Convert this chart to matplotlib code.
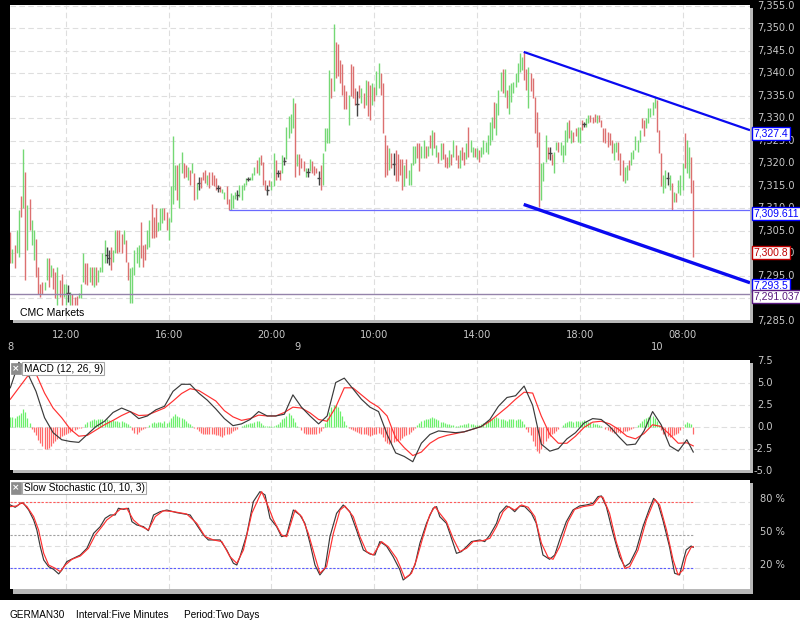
import numpy as np
import matplotlib
matplotlib.use("Agg")
import matplotlib.pyplot as plt
from matplotlib.patches import Rectangle
import matplotlib.transforms as mtrans

# ---------------- DATA ----------------
# 5-minute bars (index 0 = 8th 09:50), high / low per bar
high_a = [7304.8, 7301.1, 7301.8, 7305.2, 7309.6, 7312.7, 7323.3, 7318.1, 7310.7, 7312.2, 7307.4,
          7305.2, 7303.2, 7297.0, 7293.3, 7293.7, 7293.7, 7298.9, 7298.9, 7297.4, 7296.7, 7295.9,
          7297.0, 7294.1, 7295.5, 7293.3, 7293.3, 7293.0, 7291.5, 7291.1, 7290.4, 7290.5, 7291.2,
          7293.3, 7300.0, 7297.8, 7297.8, 7297.0, 7297.0, 7297.0, 7297.0, 7296.3, 7297.0, 7300.0,
          7303.0, 7301.5, 7300.7, 7301.5, 7300.7, 7305.2, 7305.2, 7305.2, 7304.4, 7305.2, 7303.0,
          7298.1, 7296.7, 7297.0, 7300.7, 7301.5, 7301.8, 7307.0, 7301.8, 7302.2, 7305.2, 7307.4]
low_a = [7297.8, 7297.8, 7296.7, 7300.0, 7299.3, 7308.1, 7310.0, 7294.1, 7300.7, 7305.2, 7301.8,
         7298.5, 7294.8, 7291.1, 7290.4, 7291.1, 7291.8, 7294.1, 7292.6, 7294.8, 7292.2, 7290.0,
         7288.5, 7290.4, 7288.5, 7290.4, 7288.5, 7289.3, 7288.5, 7288.5, 7288.5, 7288.5, 7290.0,
         7290.0, 7293.7, 7293.3, 7293.0, 7293.7, 7293.0, 7292.6, 7293.0, 7293.7, 7295.9, 7295.9,
         7297.8, 7297.8, 7297.4, 7296.3, 7298.1, 7300.0, 7300.0, 7300.4, 7300.0, 7302.2, 7298.1,
         7294.1, 7288.9, 7288.9, 7295.2, 7297.8, 7297.0, 7298.9, 7297.0, 7298.5, 7301.1, 7301.5]
high_b = [7311.1, 7308.2, 7310.0, 7307.1, 7310.0, 7310.0, 7310.0, 7309.3, 7307.8, 7314.9, 7326.0,
          7319.7, 7319.7, 7320.0, 7322.6, 7320.0, 7319.7, 7319.3, 7318.6, 7320.2, 7317.8, 7315.6,
          7317.1, 7317.1, 7318.2, 7318.6, 7317.4, 7318.2, 7318.2, 7317.4, 7316.7, 7315.2, 7314.9,
          7314.3, 7313.7, 7314.9, 7312.2, 7313.4, 7313.0, 7313.7, 7314.1, 7315.2, 7315.2, 7315.6,
          7316.7, 7317.1, 7317.1, 7317.8, 7319.3, 7320.8, 7321.5, 7321.9, 7320.4, 7316.3, 7315.2,
          7316.3, 7316.0, 7322.3, 7320.8, 7318.6, 7318.6, 7321.9, 7321.5, 7328.2]
low_b = [7303.4, 7303.4, 7303.7, 7304.9, 7305.2, 7306.7, 7307.4, 7305.2, 7303.0, 7307.1, 7311.1,
         7314.1, 7311.9, 7310.0, 7317.8, 7316.7, 7317.1, 7316.3, 7315.2, 7317.8, 7311.9, 7312.2,
         7314.1, 7314.5, 7316.3, 7315.6, 7315.2, 7314.5, 7315.2, 7314.9, 7314.1, 7313.7, 7313.7,
         7313.4, 7312.2, 7311.1, 7309.7, 7309.7, 7310.0, 7312.2, 7311.9, 7312.6, 7311.9, 7314.1,
         7315.2, 7316.0, 7316.3, 7316.3, 7317.4, 7317.8, 7317.4, 7319.7, 7315.2, 7314.1, 7313.0,
         7314.9, 7314.1, 7314.9, 7316.3, 7317.1, 7316.3, 7317.8, 7319.7, 7321.1]
high_c = [7330.5, 7330.9, 7334.6, 7333.4, 7322.0, 7322.0, 7321.2, 7320.5, 7319.0, 7319.0, 7320.9,
          7320.5, 7319.4, 7319.0, 7318.3, 7319.7, 7322.3, 7327.9, 7327.9, 7340.8, 7339.0, 7350.9,
          7347.1, 7346.6, 7343.1, 7342.0, 7337.5, 7336.0, 7335.3, 7342.0, 7341.6, 7336.8, 7336.0,
          7337.5, 7336.8, 7335.7, 7338.6, 7338.3, 7337.5, 7337.9, 7337.1, 7340.5, 7342.3, 7340.1,
          7337.9, 7326.4, 7324.2, 7323.4, 7322.3, 7322.3, 7323.1, 7322.0, 7320.9, 7320.9, 7319.7,
          7320.9, 7318.6, 7320.1, 7323.8, 7323.8, 7324.6, 7324.6, 7323.8, 7325.3, 7323.8, 7323.8]
low_c = [7325.7, 7326.8, 7327.9, 7317.1, 7319.4, 7317.5, 7319.0, 7318.3, 7317.1, 7317.1, 7318.3,
         7317.9, 7317.5, 7317.9, 7315.3, 7314.2, 7315.3, 7322.7, 7324.6, 7324.6, 7334.6, 7336.0,
         7339.0, 7339.4, 7337.9, 7335.3, 7332.0, 7332.0, 7328.6, 7334.9, 7334.6, 7333.1, 7330.5,
         7334.6, 7333.4, 7332.3, 7333.1, 7330.5, 7329.7, 7333.1, 7333.8, 7335.3, 7336.8, 7335.3,
         7326.8, 7317.1, 7317.5, 7318.6, 7319.0, 7317.5, 7316.0, 7316.0, 7317.5, 7314.2, 7314.9,
         7316.8, 7315.3, 7315.3, 7319.7, 7320.1, 7321.2, 7318.3, 7321.2, 7321.2, 7321.2, 7321.6]
high_d = [7326.3, 7327.4, 7327.1, 7324.1, 7322.6, 7324.5, 7324.5, 7322.2, 7321.5, 7323.0, 7322.2,
          7325.2, 7324.1, 7321.9, 7323.0, 7323.7, 7322.6, 7324.5, 7328.2, 7325.2, 7323.7, 7323.4,
          7323.4, 7323.0, 7323.7, 7325.2, 7324.8, 7326.3, 7329.3, 7330.4, 7333.7, 7333.4, 7336.3,
          7340.4, 7341.1, 7341.1, 7336.3, 7337.4, 7337.8, 7338.2, 7340.0, 7342.3, 7344.5, 7343.7,
          7344.8, 7341.1, 7341.5, 7340.0, 7338.9, 7334.8, 7331.5, 7327.1, 7320.0, 7320.4, 7326.3,
          7323.7, 7323.7, 7322.2, 7322.6, 7324.8, 7324.8, 7324.8, 7324.1, 7327.4, 7329.3]
low_d = [7323.4, 7321.9, 7323.4, 7321.5, 7320.0, 7320.8, 7321.1, 7319.3, 7318.9, 7319.3, 7319.7,
         7321.5, 7320.8, 7318.9, 7318.9, 7320.8, 7319.7, 7321.1, 7321.5, 7322.6, 7321.5, 7321.5,
         7321.1, 7320.4, 7321.5, 7322.2, 7322.6, 7322.2, 7324.1, 7325.2, 7327.8, 7326.3, 7330.8,
         7336.0, 7335.6, 7334.8, 7332.3, 7331.1, 7333.7, 7335.6, 7337.1, 7338.2, 7340.4, 7340.8,
         7338.6, 7336.3, 7332.3, 7336.0, 7334.5, 7326.7, 7323.7, 7310.4, 7311.9, 7316.0, 7320.4,
         7321.1, 7320.8, 7319.7, 7317.8, 7323.0, 7322.6, 7321.9, 7320.4, 7321.9, 7324.8]
high_e = [7329.7, 7327.4, 7327.1, 7327.8, 7328.2, 7328.2, 7329.7, 7329.3, 7330.0, 7330.8, 7330.8,
          7330.4, 7331.1, 7330.8, 7330.8, 7329.7, 7327.8, 7327.8, 7327.1, 7326.7, 7325.2, 7324.5,
          7324.8, 7324.8, 7322.3, 7320.8, 7319.3, 7319.7, 7320.8, 7322.6, 7323.0, 7326.0, 7325.2,
          7327.4, 7330.0, 7329.7, 7330.0, 7332.3, 7332.3, 7333.7, 7334.8, 7334.1, 7327.4, 7322.3,
          7317.4, 7318.5, 7318.2, 7317.4, 7315.6, 7313.7, 7313.4, 7316.3, 7317.4, 7320.0, 7326.7,
          7325.2, 7323.7, 7321.5, 7316.3]
low_e = [7325.6, 7324.5, 7324.8, 7326.0, 7324.8, 7324.5, 7327.4, 7328.2, 7328.2, 7328.9, 7329.3,
         7328.9, 7329.3, 7328.9, 7329.3, 7328.2, 7324.8, 7324.5, 7323.7, 7324.1, 7322.3, 7320.8,
         7322.6, 7320.8, 7317.4, 7316.0, 7315.6, 7316.3, 7318.6, 7319.7, 7321.1, 7323.0, 7322.6,
         7324.8, 7327.8, 7326.0, 7327.8, 7328.9, 7330.4, 7330.8, 7332.3, 7327.1, 7322.3, 7314.9,
         7313.4, 7314.5, 7315.2, 7314.1, 7309.7, 7311.5, 7311.5, 7313.4, 7313.0, 7314.1, 7318.9,
         7317.8, 7316.7, 7313.4, 7299.3]
# bar colour: r = down, g = up, k = doji
bar_kind = ("rgrggrgrgrg" "grrrrggrgrr" "grrggkgrrrg" "ggrrgrgrggg" "gkkrggrrrgr" "rgggggrrrgg"
            "rrrgggrrggg" "grggrrgrgrg" "krrrgrrrrkr" "ggrrgggkggg" "gkgggrgrrrk" "rggrkrgkg"
            "gggrgrrrgkg" "rrrkrggggrg" "rrrrrrgrrrk" "rgrgrrgrggr" "rrrgrkrrrrg" "rggggrrggrg"
            "rgrgrgrrrgr" "grrgrrgrggr" "grggggggrgg" "grgrggggggg" "rrgrrrrrggg" "rkrggrgggg"
            "rgrrggrkggr" "rrgrrrrrrrg" "grrrggrgggg" "grrgggggrrr" "ggkgrgrgggr" "ggrr")

time_ticks = [26, 74, 122, 170, 218, 266, 314]
time_labels = ["12:00", "16:00", "20:00", "10:00", "14:00", "18:00", "08:00"]
day_ticks = [0, 134, 302]
day_labels = ["8", "9", "10"]

support_level = 7309.611
support_start = 102
floor_level = 7291.037
last_price = 7300.8
upper_x = [239.8, 345.5]
upper_y = [7344.8, 7327.4]
lower_x = [239.8, 345.5]
lower_y = [7310.9, 7293.5]

# MACD (12, 26, 9), read every 4 bars
macd_idx = list(range(0, 320, 4)) + [319]
macd_line = [4.4, 7.3, 6.1, 4.0, 1.0, -0.7, -1.5, -1.7, -1.8, -0.9, 0.0, 0.6, 1.6, 2.1, 1.7, 0.9,
             1.2, 1.9, 2.3, 4.0, 4.8, 4.8, 3.8, 3.0, 2.0, 0.9, 0.1, 0.3, 0.8, 1.7, 1.2, 1.2, 1.4,
             3.6, 2.2, 1.2, 0.3, 1.2, 5.0, 5.5, 4.3, 3.1, 2.2, 1.7, -0.9, -3.0,
             -3.4, -4.0, -1.9, -0.9, -0.5, -0.6, -0.7, -0.6, -0.3, 0.0, 0.8, 2.3, 3.3, 3.5, 4.6,
             2.4, -2.0, -2.8, -2.5, -1.4, -0.7, 0.4, 0.9, 0.8, 0.0, -1.1, -2.1, -2.0, -0.5, 1.7,
             0.2, -2.2, -2.8, -1.5, -2.9]
macd_signal = [3.1, 4.4, 5.7, 6.0, 3.8, 2.1, 1.0, -0.3, -1.1, -1.0, -0.4, 0.2, 0.7, 1.25, 1.7, 1.25,
               1.3, 1.7, 2.1, 2.9, 3.75, 4.3, 4.1, 3.5, 2.9, 1.8, 1.1, 0.7, 0.9, 1.3, 1.2, 1.2, 1.6,
               2.2, 2.1, 1.55, 0.8, 0.6, 2.2, 4.4, 4.4, 3.6, 2.8, 2.2, 1.2, -1.3,
               -2.4, -3.3, -2.9, -1.9, -1.3, -1.0, -0.8, -0.6, -0.3, 0.0, 0.6, 1.4, 2.2, 3.1, 3.9,
               3.8, 1.2, -0.9, -1.9, -1.9, -1.1, -0.1, 0.5, 0.6, 0.3, -0.3, -1.1, -1.4, -0.8, 0.2,
               0.0, -0.9, -1.9, -1.85, -2.2]
macd_hist = [1.1, 1.1, 1.0, 1.2, 1.3, 1.5, 2.0, 1.6, 1.0, 0.4,
             -0.3, -0.6, -1.0, -1.5, -1.9, -2.2, -2.5, -2.6, -2.4, -2.2, -1.9, -1.7, -1.4, -1.3,
             -1.1, -1.0, -0.9, -0.7, -0.6, -0.5, -0.4, -0.3, -0.2, -0.2, -0.1,
             0.3, 0.5, 0.6, 0.7, 0.8, 0.7, 0.8, 0.9, 0.8, 0.7, 0.8, 0.7, 0.6, 0.7, 0.6, 0.6, 0.5,
             0.6, 0.5, 0.4, 0.3, 0.1,
             -0.4, -0.7, -0.8, -0.6, -0.4, -0.3, -0.2, -0.1,
             0.2, 0.4, 0.5, 0.4, 0.5, 0.5, 0.4, 0.6, 0.4, 0.5, 1.0, 1.2, 1.4, 1.2, 1.1, 1.0, 0.9,
             0.6, 0.4, 0.3, 0.1,
             -0.2, -0.3, -0.5, -0.7, -0.8, -0.8, -0.8, -0.9, -0.9, -0.9, -1.0, -1.0, -1.1, -1.2,
             -1.0, -0.9, -0.8, -0.7, -0.5, -0.4, -0.3, -0.1,
             0.1, 0.2, 0.3, 0.3, 0.4, 0.4, 0.5, 0.6, 0.6, 0.4, 0.2, 0.1, 0.05, 0.1, 0.1, 0.1, 0.2,
             0.3, 0.5, 0.8, 1.0, 1.2, 1.5, 1.3, 1.0, 0.5, 0.1, -0.1,
             -0.4, -0.7, -0.8, -0.9, -0.8, -0.9, -0.9, -0.8, -0.7, -0.5, -0.2,
             0.4, 1.0, 1.6, 2.2, 2.5, 2.4, 2.2, 1.8, 1.2, 0.6, 0.2,
             -0.2, -0.3, -0.4, -0.5, -0.6, -0.7, -0.8, -0.8, -0.9, -1.0, -1.1, -1.0, -0.9, -0.8,
             -0.7, -0.8, -1.2, -1.6, -1.9, -2.0, -1.9, -1.8, -1.7, -1.6, -1.5,
             -1.3, -1.1, -1.0, -0.8, -0.6, -0.4, -0.2,
             0.2, 0.4, 0.6, 0.7, 0.8, 0.9, 1.0, 1.1, 1.0, 0.8, 0.7, 0.5, 0.5, 0.4, 0.3, 0.3, 0.2,
             0.2, 0.1, 0.1, 0.2, 0.2, 0.3, 0.3, 0.4, 0.3, 0.3, 0.2, 0.2,
             0.2, 0.3, 0.4, 0.5, 0.7, 0.8, 0.9, 1.0, 1.1, 1.0, 0.9, 0.8, 0.7, 0.6, 0.8, 0.9, 0.8,
             0.7, 0.9, 0.8, 0.6, 0.3,
             -0.3, -0.6, -1.0, -1.6, -2.2, -2.8, -3.0, -2.6, -2.0, -1.6, -1.3, -1.1, -0.9, -0.7,
             -0.5, -0.3, -0.1,
             0.2, 0.4, 0.5, 0.6, 0.6, 0.5, 0.6, 0.6, 0.5, 0.6, 0.7, 0.6, 0.5, 0.5, 0.4, 0.3, 0.3,
             0.2, 0.1,
             -0.1, -0.3, -0.4, -0.5, -0.6, -0.7, -0.7, -0.6, -0.7, -0.6, -0.5, -0.5, -0.4, -0.3,
             -0.2, -0.1,
             0.2, 0.4, 0.6, 0.8, 1.0, 1.1, 1.2, 1.2, 1.0, 0.6, 0.2,
             -0.4, -0.8, -1.0, -1.1, -1.2, -1.1, -1.0, -0.9, -0.7, -0.4, -0.2,
             0.3, 0.5, 0.4, 0.3, -0.8]

# Slow Stochastic (10, 10, 3)
stoch_k_idx = [0, 2.3, 4.7, 6.2, 8.6, 10.9, 12.4, 14.0, 15.6, 17.9, 20.2, 22.6, 24.1, 26.4, 29.5,
               32.7, 35.8, 38.9, 42.0, 44.3, 46.7, 49.0, 50.5, 52.9, 55.2, 56.8, 59.1, 62.2, 64.5,
               66.9, 70.0, 73.1, 77.8, 84.0, 87.1, 90.2, 92.5, 95.6, 98.0, 101.1, 104.2, 105.8,
               107.3, 110.4, 113.5, 116.6, 119.0, 121.3, 124.4, 126.7, 129.1, 132.2, 135.3, 137.6,
               140.0, 142.3, 144.6, 147.0, 149.3, 152.4, 155.5, 158.6, 161.7, 164.9, 168.0, 170.3,
               172.6, 175.7, 178.8, 182.0, 183.5, 186.6, 189.0, 191.3, 194.4, 197.5, 199.1, 200.6,
               203.7, 205.3, 208.4, 210.7, 213.1, 215.4, 219.3, 221.6, 224.0, 227.1, 228.6, 231.7,
               233.3, 235.6, 238.0, 240.3, 243.4, 245.7, 247.3, 248.8, 251.9, 254.3, 256.6, 259.7,
               262.8, 265.9, 269.1, 272.2, 274.5, 276.1, 278.4, 281.5, 284.6, 287.0, 289.3, 292.4,
               295.5, 298.6, 300.5, 302.5, 304.8, 307.9, 310.3, 312.6, 314.2, 315.7, 318.0, 319.0]
stoch_k = [77.6, 75.5, 79.1, 79.1, 73.0, 64.0, 54.9, 39.7, 27.6, 21.5, 19.1, 14.9, 18.5, 26.1, 29.1,
           32.1, 38.2, 51.8, 57.9, 65.5, 68.5, 68.5, 74.6, 73.6, 74.6, 62.4, 59.4, 57.9, 54.2,
           68.5, 71.5, 73.0, 70.6, 68.5, 59.4, 50.3, 45.8, 45.8, 45.8, 36.7, 24.6, 23.0, 30.6,
           50.3, 80.6, 89.7, 86.7, 65.5, 57.9, 48.8, 50.3, 73.0, 68.5, 60.9, 42.7, 23.0, 14.0,
           20.0, 48.8, 70.0, 77.6, 71.5, 54.9, 36.7, 33.0, 32.1, 44.3, 40.3, 30.6, 18.5, 9.4,
           14.0, 23.0, 42.7, 60.9, 74.6, 76.1, 67.0, 60.9, 51.8, 33.6, 35.2, 39.7, 44.3, 45.8,
           44.3, 50.3, 60.9, 70.0, 76.7, 75.5, 71.5, 76.7, 76.1, 70.0, 60.9, 45.8, 32.1, 28.2,
           32.1, 45.8, 62.4, 73.0, 76.7, 77.6, 79.1, 85.2, 85.8, 76.1, 51.8, 30.6, 21.5, 24.6,
           36.7, 57.9, 74.6, 83.6, 79.1, 64.0, 39.7, 15.5, 14.0, 26.1, 36.7, 40.3, 39.1]
stoch_d_idx = [0, 3.1, 5.4, 7.8, 10.9, 13.2, 15.6, 17.9, 21.0, 23.3, 25.7, 28.8, 32.7, 36.5, 39.7,
               42.8, 45.1, 48.2, 51.3, 54.4, 57.5, 60.7, 64.5, 67.7, 71.5, 76.2, 82.4, 87.1, 91.0,
               94.9, 98.8, 102.6, 105.8, 108.9, 112.8, 117.4, 120.5, 122.9, 126.7, 129.1, 133.0,
               136.1, 139.2, 142.3, 144.6, 147.7, 150.9, 154.0, 156.3, 160.2, 163.3, 166.4, 169.5,
               173.4, 176.5, 180.4, 182.0, 184.3, 187.4, 189.7, 192.8, 195.9, 198.3, 200.6, 203.7,
               206.8, 209.9, 213.1, 216.2, 220.8, 224.0, 227.1, 230.2, 232.6, 235.6, 238.8, 241.9,
               245.0, 248.1, 251.2, 253.5, 256.6, 260.5, 263.6, 267.5, 272.2, 275.3, 276.8, 279.9,
               283.0, 287.0, 289.3, 293.2, 297.1, 301.0, 303.3, 306.5, 309.6, 311.9, 314.2, 315.7,
               318.0, 319.0]
stoch_d = [76.1, 76.7, 79.7, 76.1, 67.0, 54.9, 33.6, 23.0, 20.0, 17.0, 23.0, 28.2, 31.2, 38.2, 50.3,
           57.9, 64.0, 68.5, 73.6, 74.6, 64.0, 58.5, 54.9, 67.0, 72.4, 71.5, 69.4, 60.9, 48.8,
           45.8, 44.3, 30.6, 24.6, 36.7, 70.0, 89.7, 76.1, 64.0, 50.3, 48.8, 73.0, 67.0, 51.8,
           30.6, 15.5, 21.5, 51.8, 73.0, 76.7, 67.0, 48.8, 35.2, 32.1, 44.3, 39.7, 29.1, 22.0,
           10.9, 15.5, 27.6, 48.8, 68.5, 76.1, 70.0, 62.4, 47.3, 35.2, 38.2, 44.3, 45.2, 47.3,
           57.9, 71.5, 76.1, 73.0, 77.6, 75.5, 67.0, 42.7, 30.0, 28.2, 39.7, 62.4, 73.6, 76.1,
           77.6, 85.2, 84.6, 70.0, 44.3, 20.0, 21.5, 36.7, 64.0, 82.7, 77.6, 54.9, 27.6, 14.0,
           18.5, 30.6, 39.1, 39.7]

# ---------------- FIGURE ----------------
W, H = 800, 625
plt.rcParams["font.family"] = ["DejaVu Sans"]
fig = plt.figure(figsize=(8, 6.25), dpi=100, facecolor="black")
NARROW = ["Liberation Sans", "DejaVu Sans"]

def add_ax(x0, y0, x1, y1):
    return fig.add_axes([x0 / W, 1 - y1 / H, (x1 - x0) / W, (y1 - y0) / H])

def px_rect(x0, y0, x1, y1, color, z=-1):
    fig.add_artist(Rectangle((x0 / W, 1 - y1 / H), (x1 - x0) / W, (y1 - y0) / H,
                             transform=fig.transFigure, fc=color, ec="none", zorder=z))

# bottom white strip and panel shadows
px_rect(0, 600, 800, 625, "white")
shadow = "#b8b8b8"
px_rect(13, 320, 753, 323, shadow); px_rect(750, 8, 753, 323, shadow)
px_rect(13, 470, 753, 473, shadow); px_rect(750, 363, 753, 473, shadow)
px_rect(13, 589, 753, 594, shadow); px_rect(750, 483, 753, 594, shadow)

ax = add_ax(10, 5, 750, 320)
axm = add_ax(10, 360, 750, 470)
axs = add_ax(10, 480, 750, 589)
XLIM = (-0.14, 345.5)
grid_kw = dict(color="#dedede", lw=0.8, ls=(0, (5, 3)), zorder=0)
for a in (ax, axm, axs):
    a.set_facecolor("white")
    a.set_xticks([]); a.set_yticks([])
    for s in a.spines.values():
        s.set_visible(False)
    a.set_xlim(*XLIM)
    for t in time_ticks:
        a.axvline(t, **grid_kw)

lab_col = "#c8c8c8"
fs = 7.1

# ---------------- MAIN PRICE PANEL ----------------
ax.set_ylim(7285.22, 7355.22)
price_ticks = np.arange(7285, 7356, 5)
for p in price_ticks:
    ax.axhline(p, **grid_kw)

bar_high = high_a + high_b + high_c + high_d + high_e
bar_low = low_a + low_b + low_c + low_d + low_e
n = min(len(bar_high), len(bar_low), len(bar_kind))
xs = np.arange(n)
hi = np.array(bar_high[:n]); lo = np.array(bar_low[:n])
cmap = {"r": "#dc7070", "g": "#74d874", "k": "#444444"}
cols = [cmap[k] for k in bar_kind[:n]]
ax.vlines(xs, lo, hi, colors=cols, lw=1.0, zorder=3)
doji = np.array([k == "k" for k in bar_kind[:n]])
ax.hlines((hi[doji] + lo[doji]) / 2, xs[doji] - 0.8, xs[doji] + 0.8, colors="#444444", lw=1.0, zorder=3)

# annotation lines
ax.hlines(support_level, support_start, XLIM[1], colors="#6a6aff", lw=0.9, zorder=4)
ax.axhline(floor_level, color="#9483aa", lw=1.0, zorder=4)
ax.plot(upper_x, upper_y, color="#0a0af0", lw=1.6, zorder=5, solid_capstyle="butt")
ax.plot(lower_x, lower_y, color="#0a0af0", lw=2.4, zorder=5, solid_capstyle="butt")

ax.text(0.0135, 0.022, "CMC Markets", transform=ax.transAxes, ha="left", va="center",
        fontsize=7.6, color="black", zorder=6, family=NARROW)

tr_main = mtrans.blended_transform_factory(ax.transAxes, ax.transData)
for p in price_ticks:
    ax.text(1.0095, p, f"{p:,.1f}", transform=tr_main, ha="left", va="center",
            color=lab_col, fontsize=fs, clip_on=False)

tr_box = mtrans.offset_copy(tr_main, fig=fig, x=0, y=-3, units="dots")
boxes = [(upper_y[1], "#0000ff", "#0000ff"), (support_level, "#0000ff", "#0000ff"),
         (last_price, "#c00000", "#c00000"), (lower_y[1], "#0000ff", "#0000ff"),
         (floor_level, "#5a1a80", "#5a1a80")]
for val, tc, ec in boxes:
    ax.text(1.0045, val, f"{val:,}", transform=tr_box, ha="left", va="center", color=tc,
            fontsize=7.5, clip_on=False, zorder=10, family=NARROW,
            bbox=dict(boxstyle="square,pad=0.15", fc="white", ec=ec, lw=1.0))

tr_x = mtrans.blended_transform_factory(ax.transData, ax.transAxes)
for t, l in zip(time_ticks, time_labels):
    ax.text(t, -0.0476, l, transform=tr_x, ha="center", va="center", color=lab_col,
            fontsize=fs, clip_on=False)
for t, l in zip(day_ticks, day_labels):
    ax.text(t, -0.0857, l, transform=tr_x, ha="center", va="center", color=lab_col,
            fontsize=fs, clip_on=False)

# ---------------- MACD PANEL ----------------
axm.set_ylim(-4.94, 7.56)
for v in [5.0, 2.5, 0.0, -2.5]:
    axm.axhline(v, **grid_kw)
hist = np.array(macd_hist[:n])
hcols = ["#6cf06c" if h > 0 else "#ff6a6a" for h in hist]
axm.vlines(np.arange(len(hist)), 0, hist, colors=hcols, lw=0.9, zorder=2)
axm.plot(macd_idx, macd_signal, color="#ff3030", lw=0.85, zorder=3)
axm.plot(macd_idx, macd_line, color="#3a3a3a", lw=0.85, zorder=4)
tr_m = mtrans.blended_transform_factory(axm.transAxes, axm.transData)
for v in [7.5, 5.0, 2.5, 0.0, -2.5, -5.0]:
    axm.text(1.031, v, f"{v:.1f}", transform=tr_m, ha="right", va="center", color=lab_col,
             fontsize=fs, clip_on=False)

def panel_title(a, ycen, txt):
    a.text(0.0082, ycen, "×", transform=a.transAxes, ha="center", va="center", color="white",
           fontsize=6.5, fontweight="bold", zorder=8,
           bbox=dict(boxstyle="square,pad=0.12", fc="#8c8c8c", ec="#8c8c8c", lw=0.5))
    a.text(0.0185, ycen, txt, transform=a.transAxes, ha="left", va="center", color="black",
           fontsize=7.3, zorder=8, family=NARROW,
           bbox=dict(boxstyle="square,pad=0.12", fc="white", ec="#a8a8a8", lw=0.8))

panel_title(axm, 0.922, "MACD (12, 26, 9)")

# ---------------- STOCHASTIC PANEL ----------------
axs.set_ylim(1.2, 100.3)
for v in [20, 40, 60, 80]:
    axs.axhline(v, **grid_kw)
last_i = n - 1
axs.hlines(80, 0, last_i, colors="#ff5a5a", lw=0.8, ls=(0, (2, 1.5)), zorder=2)
axs.hlines(50, 0, last_i, colors="#a0a0a0", lw=0.8, ls=(0, (2, 1.5)), zorder=2)
axs.hlines(20, 0, last_i, colors="#5a5aff", lw=0.8, ls=(0, (2, 1.5)), zorder=2)
axs.plot(stoch_k_idx, stoch_k, color="#3a3a3a", lw=0.85, zorder=3)
axs.plot(stoch_d_idx, stoch_d, color="#ff3030", lw=0.85, zorder=4)
tr_s = mtrans.blended_transform_factory(axs.transAxes, axs.transData)
for v in [80, 50, 20]:
    axs.text(1.0135, v, f"{v} %", transform=tr_s, ha="left", va="baseline", color=lab_col,
             fontsize=fs, clip_on=False)
panel_title(axs, 0.927, "Slow Stochastic (10, 10, 3)")

# ---------------- FOOTER ----------------
yf = 1 - 615 / H
fig.text(10 / W, yf, "GERMAN30", ha="left", va="center", fontsize=7.2, color="black", family=NARROW)
fig.text(76 / W, yf, "Interval:Five Minutes", ha="left", va="center", fontsize=7.2, color="black",
         family=NARROW)
fig.text(184 / W, yf, "Period:Two Days", ha="left", va="center", fontsize=7.2, color="black",
         family=NARROW)

fig.savefig("out.png", dpi=100, facecolor="black")
